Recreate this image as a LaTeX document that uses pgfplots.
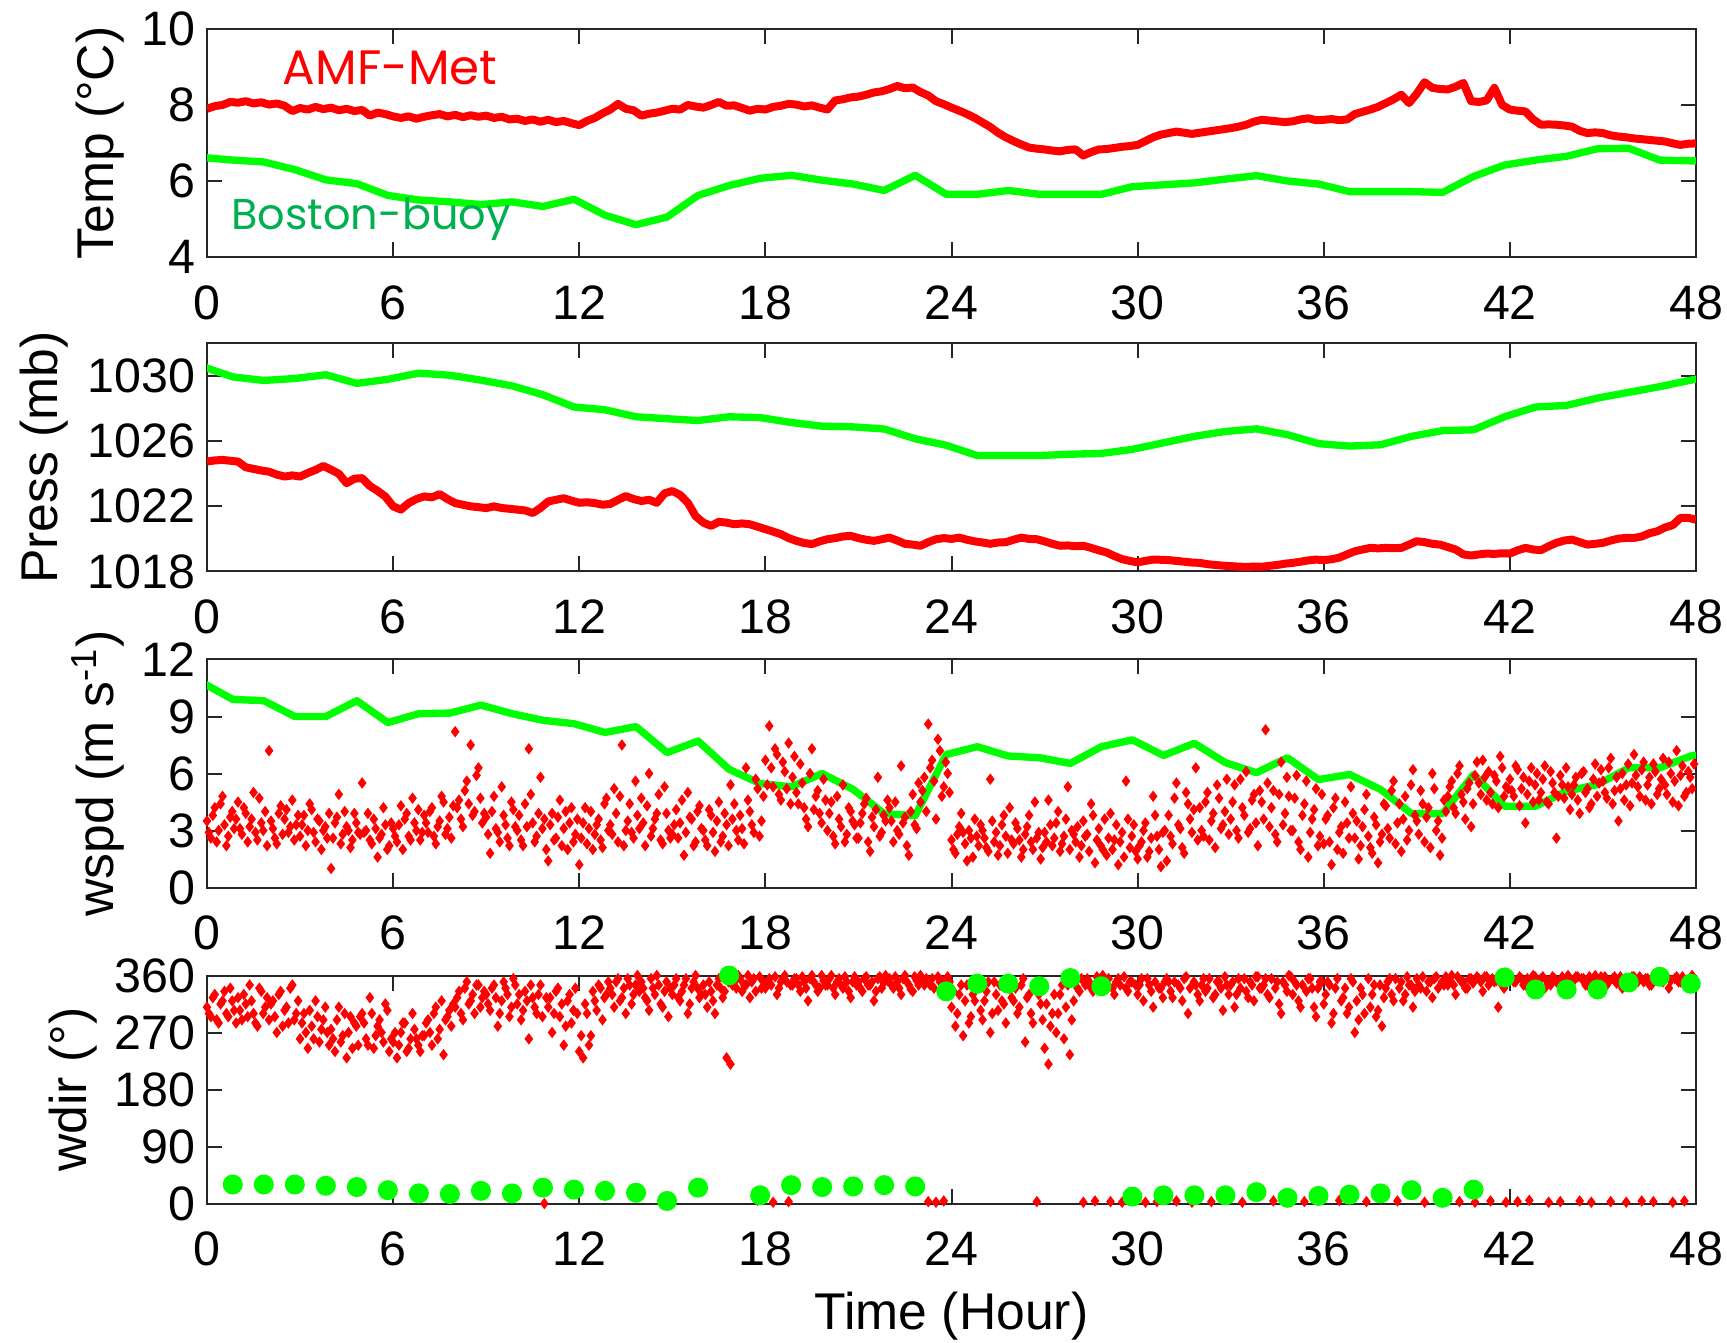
\documentclass[border=0pt]{standalone}
\usepackage{fontspec}
\setmainfont{Liberation Sans}
\newfontfamily\comic{Poppins}
\usepackage{pgfplots}
\pgfplotsset{compat=1.18}
\definecolor{mred}{RGB}{255,0,0}
\definecolor{mgreen}{RGB}{0,255,0}
\definecolor{lblgreen}{RGB}{0,176,80}
\begin{document}
\begin{tikzpicture}
\pgfplotsset{
 panel/.style={scale only axis, width=446.7pt, height=68.4pt, xmin=0, xmax=48, xtick={0,6,...,48},
  tick align=inside, tick pos=both, xticklabel pos=lower, yticklabel pos=left,
  major tick length=4.5pt,
  axis line style={black!85, line width=0.6pt}, every tick/.style={black!85, line width=0.6pt},
  tick label style={font=\fontsize{14.5}{15}\selectfont},
  /pgf/number format/assume math mode=true, /pgf/number format/set thousands separator={},
  scaled ticks=false, xticklabel style={yshift=-5pt},
  label style={font=\fontsize{15.5}{16}\selectfont}, anchor=north west},
 rline/.style={mred, line width=2.4pt, line join=round},
 gline/.style={mgreen, line width=2.2pt, line join=round},
 rdots/.style={only marks, mark=diamond*, mark size=1.4pt, color=mred},
}
% ---------------- Temperature
\begin{axis}[panel, at={(62.1pt,-8.7pt)}, ymin=4, ymax=10, ytick={4,6,8,10},
  ylabel={Temp (°C)}, ylabel style={at={(axis description cs:-0.0631,0.5)}, anchor=base}]
\addplot[rline] coordinates {(0,7.90)(0.25,7.97)(0.5,8.00)(0.75,8.08)(1,8.06)(1.25,8.10)(1.5,8.04)(1.75,8.07)(2,8.01)(2.25,8.04)(2.5,7.98)(2.75,7.84)(3,7.92)(3.25,7.88)(3.5,7.95)(3.75,7.89)(4,7.93)(4.25,7.86)(4.5,7.90)(4.75,7.84)(5,7.87)(5.25,7.72)(5.5,7.80)(5.75,7.76)(6,7.70)(6.25,7.66)(6.5,7.70)(6.75,7.64)(7,7.69)(7.25,7.73)(7.5,7.76)(7.75,7.70)(8,7.74)(8.25,7.68)(8.5,7.73)(8.75,7.69)(9,7.72)(9.25,7.66)(9.5,7.69)(9.75,7.62)(10,7.64)(10.25,7.58)(10.5,7.62)(10.75,7.56)(11,7.61)(11.25,7.55)(11.5,7.58)(11.75,7.52)(12,7.47)(12.25,7.58)(12.5,7.66)(12.75,7.78)(13,7.88)(13.25,8.03)(13.5,7.90)(13.75,7.86)(14,7.72)(14.25,7.77)(14.5,7.80)(14.75,7.85)(15,7.90)(15.25,7.88)(15.5,8.00)(15.75,7.96)(16,7.93)(16.25,8.00)(16.5,8.08)(16.75,7.98)(17,7.99)(17.25,7.92)(17.5,7.85)(17.75,7.90)(18,7.88)(18.25,7.95)(18.5,7.98)(18.75,8.03)(19,8.01)(19.25,7.96)(19.5,7.99)(19.75,7.93)(20,7.88)(20.25,8.12)(20.5,8.15)(20.75,8.20)(21,8.22)(21.25,8.27)(21.5,8.33)(21.75,8.36)(22,8.42)(22.25,8.50)(22.5,8.44)(22.75,8.46)(23,8.34)(23.25,8.25)(23.5,8.10)(23.75,8.02)(24,7.93)(24.25,7.85)(24.5,7.76)(24.75,7.66)(25,7.54)(25.25,7.42)(25.5,7.27)(25.75,7.15)(26,7.05)(26.25,6.96)(26.5,6.88)(26.75,6.85)(27,6.83)(27.25,6.80)(27.5,6.78)(27.75,6.82)(28,6.83)(28.25,6.67)(28.5,6.76)(28.75,6.83)(29,6.84)(29.25,6.87)(29.5,6.90)(29.75,6.92)(30,6.95)(30.25,7.05)(30.5,7.15)(30.75,7.22)(31,7.26)(31.25,7.30)(31.5,7.27)(31.75,7.24)(32,7.27)(32.25,7.30)(32.5,7.33)(32.75,7.36)(33,7.39)(33.25,7.43)(33.5,7.48)(33.75,7.56)(34,7.61)(34.25,7.59)(34.5,7.57)(34.75,7.55)(35,7.57)(35.25,7.62)(35.5,7.65)(35.75,7.60)(36,7.61)(36.25,7.63)(36.5,7.60)(36.75,7.62)(37,7.76)(37.25,7.82)(37.5,7.88)(37.75,7.95)(38,8.05)(38.25,8.15)(38.5,8.27)(38.75,8.05)(39,8.30)(39.25,8.60)(39.5,8.45)(39.75,8.42)(40,8.41)(40.25,8.48)(40.5,8.58)(40.75,8.10)(41,8.08)(41.25,8.12)(41.5,8.45)(41.75,8.00)(42,7.88)(42.25,7.85)(42.5,7.83)(42.75,7.62)(43,7.48)(43.25,7.49)(43.5,7.48)(43.75,7.46)(44,7.43)(44.25,7.32)(44.5,7.26)(44.75,7.28)(45,7.26)(45.25,7.20)(45.5,7.17)(45.75,7.15)(46,7.12)(46.25,7.10)(46.5,7.08)(46.75,7.06)(47,7.04)(47.25,6.99)(47.5,6.95)(47.75,6.98)(48,6.99)};
\addplot[gline] coordinates {(-0.17,6.62)(0.83,6.55)(1.83,6.5)(2.83,6.3)(3.83,6.03)(4.83,5.93)(5.83,5.62)(6.83,5.5)(7.83,5.45)(8.83,5.38)(9.83,5.45)(10.83,5.33)(11.83,5.52)(12.83,5.1)(13.83,4.85)(14.83,5.05)(15.83,5.62)(16.83,5.88)(17.83,6.07)(18.83,6.15)(19.83,6.02)(20.83,5.92)(21.83,5.75)(22.83,6.15)(23.83,5.65)(24.83,5.65)(25.83,5.75)(26.83,5.65)(27.83,5.65)(28.83,5.65)(29.83,5.85)(30.83,5.9)(31.83,5.95)(32.83,6.05)(33.83,6.14)(34.83,6.0)(35.83,5.92)(36.83,5.72)(37.83,5.72)(38.83,5.72)(39.83,5.7)(40.83,6.12)(41.83,6.42)(42.83,6.55)(43.83,6.65)(44.83,6.85)(45.83,6.86)(46.83,6.55)(47.83,6.53)(48.83,6.53)};
\end{axis}
\node[text=mred, font=\comic\fontsize{14.5}{14.5}\selectfont, anchor=base] at (117pt,-25.5pt) {AMF-Met};
\node[text=lblgreen, font=\comic\fontsize{12.9}{12.9}\selectfont, anchor=base] at (111.3pt,-69pt) {Boston-buoy};
% ---------------- Pressure
\begin{axis}[panel, at={(62.1pt,-103.05pt)}, ymin=1018, ymax=1032, ytick={1018,1022,1026,1030},
  ylabel={Press (mb)}, ylabel style={at={(axis description cs:-0.1007,0.5)}, anchor=base}]
\addplot[rline] coordinates {(0,1024.75)(0.25,1024.82)(0.5,1024.85)(0.75,1024.80)(1,1024.75)(1.25,1024.40)(1.5,1024.30)(1.75,1024.20)(2,1024.13)(2.25,1023.95)(2.5,1023.83)(2.75,1023.90)(3,1023.83)(3.25,1024.05)(3.5,1024.24)(3.75,1024.48)(4,1024.25)(4.25,1024.00)(4.5,1023.42)(4.75,1023.70)(5,1023.73)(5.25,1023.25)(5.5,1022.95)(5.75,1022.60)(6,1022.00)(6.25,1021.80)(6.5,1022.20)(6.75,1022.45)(7,1022.61)(7.25,1022.55)(7.5,1022.75)(7.75,1022.45)(8,1022.20)(8.25,1022.10)(8.5,1022.00)(8.75,1021.95)(9,1021.89)(9.25,1022.00)(9.5,1021.90)(9.75,1021.85)(10,1021.80)(10.25,1021.75)(10.5,1021.59)(10.75,1021.90)(11,1022.30)(11.25,1022.40)(11.5,1022.50)(11.75,1022.35)(12,1022.22)(12.25,1022.25)(12.5,1022.20)(12.75,1022.10)(13,1022.15)(13.25,1022.40)(13.5,1022.63)(13.75,1022.45)(14,1022.33)(14.25,1022.40)(14.5,1022.22)(14.75,1022.80)(15,1022.94)(15.25,1022.70)(15.5,1022.22)(15.75,1021.40)(16,1021.00)(16.25,1020.80)(16.5,1021.05)(16.75,1021.00)(17,1020.90)(17.25,1020.95)(17.5,1020.90)(17.75,1020.75)(18,1020.60)(18.25,1020.45)(18.5,1020.29)(18.75,1020.05)(19,1019.88)(19.25,1019.75)(19.5,1019.68)(19.75,1019.85)(20,1019.98)(20.25,1020.05)(20.5,1020.15)(20.75,1020.19)(21,1020.05)(21.25,1019.95)(21.5,1019.88)(21.75,1019.98)(22,1020.08)(22.25,1019.90)(22.5,1019.70)(22.75,1019.65)(23,1019.58)(23.25,1019.80)(23.5,1019.98)(23.75,1020.05)(24,1020.00)(24.25,1020.08)(24.5,1019.95)(24.75,1019.85)(25,1019.78)(25.25,1019.70)(25.5,1019.78)(25.75,1019.80)(26,1019.95)(26.25,1020.08)(26.5,1020.00)(26.75,1019.98)(27,1019.85)(27.25,1019.70)(27.5,1019.58)(27.75,1019.60)(28,1019.55)(28.25,1019.58)(28.5,1019.45)(28.75,1019.30)(29,1019.17)(29.25,1018.95)(29.5,1018.76)(29.75,1018.65)(30,1018.56)(30.25,1018.65)(30.5,1018.73)(30.75,1018.72)(31,1018.70)(31.25,1018.65)(31.5,1018.60)(31.75,1018.55)(32,1018.53)(32.25,1018.45)(32.5,1018.40)(32.75,1018.36)(33,1018.33)(33.25,1018.30)(33.5,1018.28)(33.75,1018.30)(34,1018.29)(34.25,1018.35)(34.5,1018.40)(34.75,1018.48)(35,1018.53)(35.25,1018.60)(35.5,1018.68)(35.75,1018.73)(36,1018.70)(36.25,1018.75)(36.5,1018.85)(36.75,1019.05)(37,1019.24)(37.25,1019.35)(37.5,1019.45)(37.75,1019.42)(38,1019.45)(38.25,1019.43)(38.5,1019.45)(38.75,1019.65)(39,1019.86)(39.25,1019.80)(39.5,1019.70)(39.75,1019.65)(40,1019.50)(40.25,1019.35)(40.5,1019.05)(40.75,1018.98)(41,1019.05)(41.25,1019.10)(41.5,1019.08)(41.75,1019.12)(42,1019.10)(42.25,1019.30)(42.5,1019.45)(42.75,1019.35)(43,1019.31)(43.25,1019.55)(43.5,1019.76)(43.75,1019.90)(44,1019.96)(44.25,1019.80)(44.5,1019.65)(44.75,1019.70)(45,1019.76)(45.25,1019.90)(45.5,1020.02)(45.75,1020.06)(46,1020.06)(46.25,1020.15)(46.5,1020.35)(46.75,1020.47)(47,1020.70)(47.25,1020.85)(47.5,1021.29)(47.75,1021.30)(48,1021.18)};
\addplot[gline] coordinates {(-0.17,1030.6)(0.83,1029.95)(1.83,1029.73)(2.83,1029.85)(3.83,1030.08)(4.83,1029.55)(5.83,1029.8)(6.83,1030.18)(7.83,1030.05)(8.83,1029.75)(9.83,1029.4)(10.83,1028.85)(11.83,1028.1)(12.83,1027.93)(13.83,1027.5)(14.83,1027.38)(15.83,1027.27)(16.83,1027.5)(17.83,1027.45)(18.83,1027.15)(19.83,1026.92)(20.83,1026.88)(21.83,1026.75)(22.83,1026.15)(23.83,1025.75)(24.83,1025.12)(25.83,1025.12)(26.83,1025.12)(27.83,1025.2)(28.83,1025.25)(29.83,1025.5)(30.83,1025.9)(31.83,1026.3)(32.83,1026.6)(33.83,1026.76)(34.83,1026.4)(35.83,1025.85)(36.83,1025.7)(37.83,1025.78)(38.83,1026.3)(39.83,1026.65)(40.83,1026.7)(41.83,1027.5)(42.83,1028.1)(43.83,1028.2)(44.83,1028.65)(45.83,1029.0)(46.83,1029.35)(47.83,1029.75)(48.83,1030.1)};
\end{axis}
% ---------------- Wind speed
\begin{axis}[panel, at={(62.1pt,-197.85pt)}, ymin=0, ymax=12, ytick={0,3,6,9,12},
  ylabel={wspd (m s\textsuperscript{-1})}, ylabel style={at={(axis description cs:-0.0625,0.5)}, anchor=base}]
\addplot[rdots] coordinates {
(0,3.5)(0.125,2.6)(0.25,4.2)(0.375,3.0)(0.5,4.8)(0.625,2.2)(0.75,3.7)(0.875,3.1)
(1,4.5)(1.125,2.8)(1.25,3.9)(1.375,3.2)(1.5,5.0)(1.625,2.5)(1.75,3.4)(1.875,4.0)
(2,7.2)(2.125,3.1)(2.25,2.3)(2.375,4.3)(2.5,3.6)(2.625,2.9)(2.75,4.6)(2.875,3.3)
(3,2.7)(3.125,3.8)(3.25,3.0)(3.375,4.1)(3.5,2.4)(3.625,3.5)(3.75,3.0)(3.875,2.6)
(4,1.0)(4.125,3.4)(4.25,4.9)(4.375,2.8)(4.5,3.2)(4.625,2.1)(4.75,3.9)(4.875,2.9)
(5,5.5)(5.125,3.0)(5.25,2.5)(5.375,3.6)(5.5,1.6)(5.625,2.8)(5.75,3.3)(5.875,2.2)
(6,3.1)(6.125,2.4)(6.25,4.3)(6.375,3.6)(6.5,2.7)(6.625,4.7)(6.75,3.0)(6.875,2.5)
(7,3.8)(7.125,2.9)(7.25,4.2)(7.375,2.3)(7.5,3.5)(7.625,4.5)(7.75,3.1)(7.875,2.6)
(8,8.2)(8.125,4.6)(8.25,3.2)(8.375,5.6)(8.5,7.5)(8.625,4.0)(8.75,6.3)(8.875,3.4)
(9,3.7)(9.125,1.8)(9.25,4.8)(9.375,2.9)(9.5,5.3)(9.625,3.3)(9.75,2.2)(9.875,4.1)
(10,3.0)(10.125,2.5)(10.25,4.4)(10.375,7.3)(10.5,3.4)(10.625,2.7)(10.75,5.8)(10.875,3.6)
(11,1.4)(11.125,3.9)(11.25,2.6)(11.375,4.6)(11.5,3.1)(11.625,2.0)(11.75,4.2)(11.875,2.8)
(12,1.2)(12.125,3.4)(12.25,2.3)(12.375,4.0)(12.5,2.8)(12.625,3.6)(12.75,2.1)(12.875,4.7)
(13,3.3)(13.125,5.2)(13.25,2.4)(13.375,7.5)(13.5,3.0)(13.625,4.4)(13.75,2.6)(13.875,3.8)
(14,4.7)(14.125,2.2)(14.25,6.0)(14.375,3.1)(14.5,3.9)(14.625,2.5)(14.75,5.3)(14.875,3.0)
(15,2.8)(15.125,4.1)(15.25,3.4)(15.375,1.7)(15.5,5.0)(15.625,3.6)(15.75,2.4)(15.875,4.3)
(16,3.0)(16.125,2.2)(16.25,3.8)(16.375,1.9)(16.5,4.5)(16.625,2.7)(16.75,3.3)(16.875,5.4)
(17,4.4)(17.125,2.5)(17.25,3.1)(17.375,6.3)(17.5,4.0)(17.625,2.9)(17.75,5.2)(17.875,3.5)
(18,6.7)(18.125,8.5)(18.25,5.3)(18.375,7.0)(18.5,4.6)(18.625,6.1)(18.75,7.6)(18.875,5.8)
(19,5.0)(19.125,6.5)(19.25,4.2)(19.375,3.2)(19.5,7.3)(19.625,4.8)(19.75,3.9)(19.875,5.7)
(20,3.0)(20.125,4.5)(20.25,2.3)(20.375,3.6)(20.5,5.4)(20.625,2.8)(20.75,4.0)(20.875,3.3)
(21,2.6)(21.125,3.9)(21.25,4.7)(21.375,1.9)(21.5,3.2)(21.625,5.8)(21.75,2.9)(21.875,3.5)
(22,4.2)(22.125,2.4)(22.25,3.0)(22.375,6.4)(22.5,3.7)(22.625,1.7)(22.75,4.9)(22.875,3.1)
(23,4.5)(23.125,5.8)(23.25,8.6)(23.375,6.7)(23.5,3.6)(23.625,7.2)(23.75,5.3)(23.875,6.0)
(24,2.5)(24.125,1.8)(24.25,3.2)(24.375,2.9)(24.5,1.4)(24.625,2.6)(24.75,3.6)(24.875,2.2)
(25,3.0)(25.125,2.1)(25.25,5.7)(25.375,2.4)(25.5,1.7)(25.625,3.3)(25.75,2.7)(25.875,4.2)
(26,2.3)(26.125,3.1)(26.25,1.6)(26.375,2.8)(26.5,3.8)(26.625,2.0)(26.75,2.6)(26.875,1.5)
(27,2.9)(27.125,4.6)(27.25,2.2)(27.375,3.4)(27.5,1.9)(27.625,2.7)(27.75,5.3)(27.875,3.0)
(28,2.4)(28.125,1.6)(28.25,3.5)(28.375,2.8)(28.5,4.4)(28.625,1.3)(28.75,3.1)(28.875,2.0)
(29,1.7)(29.125,3.9)(29.25,2.5)(29.375,1.2)(29.5,2.9)(29.625,5.6)(29.75,2.1)(29.875,3.3)
(30,1.5)(30.125,2.4)(30.25,3.4)(30.375,1.9)(30.5,4.8)(30.625,2.7)(30.75,1.1)(30.875,3.0)
(31,3.8)(31.125,2.3)(31.25,5.5)(31.375,3.1)(31.5,1.8)(31.625,4.4)(31.75,2.9)(31.875,6.3)
(32,4.2)(32.125,2.7)(32.25,5.0)(32.375,3.5)(32.5,2.1)(32.625,4.7)(32.75,3.3)(32.875,5.7)
(33,3.6)(33.125,5.4)(33.25,2.6)(33.375,4.2)(33.5,6.1)(33.625,3.1)(33.75,4.9)(33.875,2.2)
(34,4.5)(34.125,8.3)(34.25,3.2)(34.375,5.1)(34.5,2.4)(34.625,6.6)(34.75,3.9)(34.875,4.8)
(35,3.0)(35.125,5.9)(35.25,2.0)(35.375,4.4)(35.5,1.6)(35.625,3.6)(35.75,5.2)(35.875,2.7)
(36,2.3)(36.125,3.8)(36.25,1.2)(36.375,4.7)(36.5,2.9)(36.625,1.8)(36.75,3.4)(36.875,5.3)
(37,2.6)(37.125,1.5)(37.25,3.2)(37.375,4.9)(37.5,2.1)(37.625,3.7)(37.75,1.3)(37.875,2.8)
(38,4.3)(38.125,2.6)(38.25,5.6)(38.375,3.4)(38.5,1.9)(38.625,4.8)(38.75,3.0)(38.875,6.2)
(39,3.5)(39.125,5.1)(39.25,2.4)(39.375,4.2)(39.5,6.0)(39.625,3.0)(39.75,1.7)(39.875,4.6)
(40,4.8)(40.125,5.6)(40.25,3.9)(40.375,6.4)(40.5,4.5)(40.625,5.2)(40.75,3.2)(40.875,5.9)
(41,5.5)(41.125,6.7)(41.25,4.6)(41.375,5.0)(41.5,5.9)(41.625,4.2)(41.75,6.3)(41.875,5.3)
(42,5.7)(42.125,4.8)(42.25,6.2)(42.375,5.2)(42.5,3.4)(42.625,5.6)(42.75,4.5)(42.875,6.0)
(43,5.0)(43.125,6.4)(43.25,4.4)(43.375,5.5)(43.5,2.6)(43.625,5.9)(43.75,4.7)(43.875,5.3)
(44,4.9)(44.125,5.8)(44.25,3.9)(44.375,6.1)(44.5,5.2)(44.625,4.4)(44.75,6.5)(44.875,5.5)
(45,5.6)(45.125,4.7)(45.25,6.8)(45.375,5.1)(45.5,3.5)(45.625,6.0)(45.75,5.4)(45.875,4.3)
(46,7.0)(46.125,5.3)(46.25,6.2)(46.375,4.6)(46.5,5.8)(46.625,6.5)(46.75,4.9)(46.875,5.7)
(47,5.4)(47.125,6.6)(47.25,4.5)(47.375,7.2)(47.5,5.9)(47.625,4.8)(47.75,6.1)(47.875,5.2)};
\addplot[rdots] coordinates {
(0.0625,2.9)(0.1875,3.8)(0.3125,2.4)(0.4375,4.4)(0.5625,3.3)(0.6875,2.7)(0.8125,4.0)(0.9375,3.6)
(1.0625,3.1)(1.1875,4.2)(1.3125,2.4)(1.4375,3.6)(1.5625,2.9)(1.6875,4.7)(1.8125,3.0)(1.9375,2.2)
(2.0625,3.5)(2.1875,2.6)(2.3125,3.9)(2.4375,2.8)(2.5625,4.1)(2.6875,3.2)(2.8125,2.5)(2.9375,3.8)
(3.0625,3.3)(3.1875,2.2)(3.3125,4.4)(3.4375,2.9)(3.5625,3.6)(3.6875,2.0)(3.8125,3.2)(3.9375,3.9)
(4.0625,2.6)(4.1875,3.7)(4.3125,2.3)(4.4375,4.0)(4.5625,3.0)(4.6875,2.5)(4.8125,3.4)(4.9375,2.8)
(5.0625,2.9)(5.1875,3.9)(5.3125,2.3)(5.4375,3.1)(5.5625,2.6)(5.6875,4.2)(5.8125,2.0)(5.9375,3.4)
(6.0625,2.7)(6.1875,3.3)(6.3125,2.0)(6.4375,3.9)(6.5625,2.5)(6.6875,3.4)(6.8125,4.1)(6.9375,2.9)
(7.0625,3.4)(7.1875,4.0)(7.3125,2.7)(7.4375,3.2)(7.5625,4.8)(7.6875,2.8)(7.8125,3.7)(7.9375,4.3)
(8.0625,4.2)(8.1875,3.6)(8.3125,5.1)(8.4375,4.4)(8.5625,3.8)(8.6875,5.9)(8.8125,4.7)(8.9375,3.9)
(9.0625,2.8)(9.1875,4.0)(9.3125,3.1)(9.4375,2.4)(9.5625,3.8)(9.6875,2.6)(9.8125,4.5)(9.9375,3.2)
(10.0625,3.8)(10.1875,2.2)(10.3125,3.2)(10.4375,4.9)(10.5625,2.4)(10.6875,3.9)(10.8125,3.1)(10.9375,2.0)
(11.0625,3.3)(11.1875,2.5)(11.3125,3.7)(11.4375,2.2)(11.5625,4.0)(11.6875,3.4)(11.8125,2.4)(11.9375,3.6)
(12.0625,2.6)(12.1875,4.2)(12.3125,3.1)(12.4375,2.0)(12.5625,3.3)(12.6875,2.5)(12.8125,4.4)(12.9375,3.0)
(13.0625,2.8)(13.1875,3.9)(13.3125,4.8)(13.4375,2.2)(13.5625,3.5)(13.6875,2.9)(13.8125,5.6)(13.9375,3.1)
(14.0625,3.4)(14.1875,4.3)(14.3125,2.7)(14.4375,3.6)(14.5625,4.9)(14.6875,2.3)(14.8125,3.9)(14.9375,2.6)
(15.0625,3.3)(15.1875,2.6)(15.3125,4.6)(15.4375,2.9)(15.5625,3.7)(15.6875,2.2)(15.8125,4.0)(15.9375,3.1)
(16.0625,2.5)(16.1875,4.1)(16.3125,2.9)(16.4375,3.5)(16.5625,2.4)(16.6875,3.9)(16.8125,2.2)(16.9375,3.6)
(17.0625,3.0)(17.1875,3.8)(17.3125,2.3)(17.4375,4.6)(17.5625,3.3)(17.6875,5.7)(17.8125,2.7)(17.9375,4.8)
(18.0625,5.4)(18.1875,6.3)(18.3125,7.3)(18.4375,4.9)(18.5625,6.6)(18.6875,5.2)(18.8125,4.4)(18.9375,6.9)
(19.0625,4.4)(19.1875,5.5)(19.3125,3.6)(19.4375,6.0)(19.5625,4.1)(19.6875,5.1)(19.8125,3.4)(19.9375,4.6)
(20.0625,3.9)(20.1875,2.7)(20.3125,4.8)(20.4375,3.2)(20.5625,2.4)(20.6875,4.2)(20.8125,3.5)(20.9375,2.6)
(21.0625,3.4)(21.1875,4.4)(21.3125,2.4)(21.4375,3.7)(21.5625,4.1)(21.6875,2.7)(21.8125,3.8)(21.9375,4.6)
(22.0625,3.5)(22.1875,4.5)(22.3125,2.8)(22.4375,3.4)(22.5625,2.2)(22.6875,4.0)(22.8125,3.3)(22.9375,5.5)
(23.0625,5.1)(23.1875,4.0)(23.3125,6.3)(23.4375,5.6)(23.5625,7.8)(23.6875,4.8)(23.8125,6.6)(23.9375,5.0)
(24.0625,2.0)(24.1875,2.8)(24.3125,3.9)(24.4375,2.3)(24.5625,3.0)(24.6875,1.6)(24.8125,2.7)(24.9375,3.3)
(25.0625,2.6)(25.1875,1.9)(25.3125,3.5)(25.4375,2.9)(25.5625,2.2)(25.6875,3.8)(25.8125,1.8)(25.9375,2.5)
(26.0625,3.4)(26.1875,2.5)(26.3125,2.0)(26.4375,3.2)(26.5625,2.4)(26.6875,4.5)(26.8125,2.9)(26.9375,2.1)
(27.0625,2.4)(27.1875,3.3)(27.3125,2.6)(27.4375,4.0)(27.5625,2.3)(27.6875,3.6)(27.8125,2.0)(27.9375,2.8)
(28.0625,3.2)(28.1875,2.2)(28.3125,2.7)(28.4375,1.9)(28.5625,3.8)(28.6875,2.5)(28.8125,2.2)(28.9375,3.6)
(29.0625,2.6)(29.1875,2.0)(29.3125,3.3)(29.4375,2.4)(29.5625,1.6)(29.6875,3.6)(29.8125,2.7)(29.9375,1.9)
(30.0625,2.2)(30.1875,3.0)(30.3125,1.6)(30.4375,2.6)(30.5625,3.8)(30.6875,2.0)(30.8125,2.9)(30.9375,1.4)
(31.0625,2.7)(31.1875,4.7)(31.3125,3.3)(31.4375,2.1)(31.5625,5.0)(31.6875,3.6)(31.8125,4.1)(31.9375,2.5)
(32.0625,3.0)(32.1875,4.5)(32.3125,2.5)(32.4375,3.9)(32.5625,5.4)(32.6875,3.1)(32.8125,4.0)(32.9375,2.8)
(33.0625,4.5)(33.1875,3.0)(33.3125,5.7)(33.4375,3.8)(33.5625,2.9)(33.6875,4.6)(33.8125,3.4)(33.9375,5.1)
(34.0625,3.6)(34.1875,5.5)(34.3125,4.2)(34.4375,2.8)(34.5625,4.9)(34.6875,3.3)(34.8125,5.8)(34.9375,3.0)
(35.0625,4.7)(35.1875,2.4)(35.3125,3.8)(35.4375,5.6)(35.5625,2.9)(35.6875,4.1)(35.8125,2.2)(35.9375,4.9)
(36.0625,3.6)(36.1875,2.4)(36.3125,4.2)(36.4375,2.0)(36.5625,3.2)(36.6875,4.5)(36.8125,2.6)(36.9375,3.9)
(37.0625,3.5)(37.1875,2.2)(37.3125,4.1)(37.4375,2.7)(37.5625,1.8)(37.6875,3.3)(37.8125,2.4)(37.9375,4.4)
(38.0625,3.1)(38.1875,5.1)(38.3125,2.3)(38.4375,4.4)(38.5625,3.6)(38.6875,2.5)(38.8125,5.4)(38.9375,3.8)
(39.0625,2.8)(39.1875,4.4)(39.3125,3.7)(39.4375,2.1)(39.5625,5.2)(39.6875,3.5)(39.8125,2.6)(39.9375,4.0)
(40.0625,5.3)(40.1875,4.2)(40.3125,6.0)(40.4375,4.9)(40.5625,3.6)(40.6875,5.5)(40.8125,4.4)(40.9375,6.6)
(41.0625,4.9)(41.1875,5.8)(41.3125,6.1)(41.4375,4.4)(41.5625,5.6)(41.6875,6.9)(41.8125,4.8)(41.9375,5.2)
(42.0625,5.1)(42.1875,6.4)(42.3125,4.3)(42.4375,5.8)(42.5625,4.9)(42.6875,6.3)(42.8125,5.4)(42.9375,4.6)
(43.0625,5.7)(43.1875,4.5)(43.3125,6.1)(43.4375,5.0)(43.5625,4.8)(43.6875,5.4)(43.8125,6.3)(43.9375,4.1)
(44.0625,5.4)(44.1875,4.6)(44.3125,6.0)(44.4375,5.0)(44.5625,4.2)(44.6875,5.7)(44.8125,4.8)(44.9375,6.2)
(45.0625,5.0)(45.1875,6.3)(45.3125,4.4)(45.4375,5.8)(45.5625,5.2)(45.6875,4.6)(45.8125,6.5)(45.9375,5.5)
(46.0625,5.9)(46.1875,4.8)(46.3125,6.6)(46.4375,5.4)(46.5625,4.4)(46.6875,6.1)(46.8125,5.2)(46.9375,6.8)
(47.0625,4.9)(47.1875,6.0)(47.3125,5.6)(47.4375,4.3)(47.5625,6.4)(47.6875,5.0)(47.8125,5.8)(47.9375,6.5)};
\addplot[gline] coordinates {(-0.17,10.8)(0.83,9.9)(1.83,9.83)(2.83,9.0)(3.83,9.0)(4.83,9.83)(5.83,8.68)(6.83,9.15)(7.83,9.18)(8.83,9.6)(9.83,9.15)(10.83,8.8)(11.83,8.62)(12.83,8.16)(13.83,8.47)(14.83,7.1)(15.83,7.71)(16.83,6.22)(17.83,5.47)(18.83,5.3)(19.83,6.0)(20.83,5.16)(21.83,3.89)(22.83,3.78)(23.83,7.0)(24.83,7.41)(25.83,6.92)(26.83,6.83)(27.83,6.53)(28.83,7.41)(29.83,7.77)(30.83,6.95)(31.83,7.59)(32.83,6.57)(33.83,6.04)(34.83,6.83)(35.83,5.68)(36.83,5.95)(37.83,5.16)(38.83,3.89)(39.83,3.89)(40.83,5.95)(41.83,4.28)(42.83,4.28)(43.83,5.07)(44.83,5.42)(45.83,6.3)(46.83,6.3)(47.83,6.92)(48.83,7.2)};
\end{axis}
% ---------------- Wind direction
\begin{axis}[panel, at={(62.1pt,-292.65pt)}, ymin=0, ymax=360, ytick={0,90,180,270,360}, clip=false,
  ylabel={wdir (°)}, ylabel style={at={(axis description cs:-0.0812,0.5)}, anchor=base},
  xlabel={Time (Hour)}, xlabel style={at={(axis description cs:0.5,-0.553)}, anchor=base}]
\addplot[rdots] coordinates {
(0,310)(0.125,295)(0.25,330)(0.375,285)(0.5,320)(0.625,300)(0.75,340)(0.875,305)
(1,325)(1.125,290)(1.25,315)(1.375,345)(1.5,300)(1.625,280)(1.75,335)(1.875,310)
(2,290)(2.125,320)(2.25,270)(2.375,335)(2.5,305)(2.625,285)(2.75,345)(2.875,300)
(3,260)(3.125,300)(3.25,245)(3.375,280)(3.5,320)(3.625,255)(3.75,290)(3.875,270)
(4,275)(4.125,240)(4.25,310)(4.375,265)(4.5,230)(4.625,295)(4.75,285)(4.875,250)
(5,300)(5.125,260)(5.25,325)(5.375,245)(5.5,280)(5.625,270)(5.75,315)(5.875,240)
(6,255)(6.125,230)(6.25,270)(6.375,285)(6.5,245)(6.625,300)(6.75,260)(6.875,240)
(7,265)(7.125,290)(7.25,250)(7.375,310)(7.5,275)(7.625,235)(7.75,295)(7.875,280)
(8,310)(8.125,335)(8.25,290)(8.375,350)(8.5,320)(8.625,300)(8.75,345)(8.875,325)
(9,330)(9.125,305)(9.25,345)(9.375,280)(9.5,320)(9.625,340)(9.75,295)(9.875,355)
(10,315)(10.125,290)(10.25,335)(10.375,260)(10.5,325)(10.625,300)(10.75,345)(10.875,0)
(11,310)(11.125,270)(11.25,335)(11.375,295)(11.5,250)(11.625,320)(11.75,285)(11.875,340)
(12,240)(12.125,230)(12.25,300)(12.375,265)(12.5,320)(12.625,345)(12.75,290)(12.875,330)
(13,340)(13.125,310)(13.25,355)(13.375,325)(13.5,300)(13.625,345)(13.75,330)(13.875,360)
(14,350)(14.125,325)(14.25,305)(14.375,340)(14.5,360)(14.625,315)(14.75,335)(14.875,295)
(15,330)(15.125,355)(15.25,320)(15.375,345)(15.5,300)(15.625,340)(15.75,360)(15.875,325)
(16,345)(16.125,310)(16.25,335)(16.375,300)(16.5,355)(16.625,325)(16.75,230)(16.875,220)
(17,350)(17.125,360)(17.25,335)(17.375,345)(17.5,325)(17.625,355)(17.75,5)(17.875,340)
(18,340)(18.125,355)(18.25,2)(18.375,330)(18.5,350)(18.625,360)(18.75,3)(18.875,345)
(19,355)(19.125,335)(19.25,350)(19.375,320)(19.5,360)(19.625,345)(19.75,340)(19.875,352)
(20,345)(20.125,360)(20.25,330)(20.375,355)(20.5,340)(20.625,350)(20.75,325)(20.875,358)
(21,350)(21.125,335)(21.25,358)(21.375,345)(21.5,320)(21.625,355)(21.75,340)(21.875,360)
(22,355)(22.125,340)(22.25,350)(22.375,330)(22.5,360)(22.625,345)(22.75,335)(22.875,352)
(23,360)(23.125,345)(23.25,3)(23.375,355)(23.5,2)(23.625,350)(23.75,4)(23.875,358)
(24,310)(24.125,280)(24.25,330)(24.375,265)(24.5,345)(24.625,295)(24.75,320)(24.875,350)
(25,290)(25.125,335)(25.25,270)(25.375,350)(25.5,305)(25.625,320)(25.75,285)(25.875,340)
(26,320)(26.125,300)(26.25,345)(26.375,255)(26.5,330)(26.625,285)(26.75,3)(26.875,315)
(27,245)(27.125,220)(27.25,300)(27.375,270)(27.5,330)(27.625,260)(27.75,345)(27.875,290)
(28,350)(28.125,335)(28.25,2)(28.375,355)(28.5,340)(28.625,4)(28.75,345)(28.875,360)
(29,345)(29.125,3)(29.25,330)(29.375,355)(29.5,2)(29.625,340)(29.75,350)(29.875,5)
(30,330)(30.125,355)(30.25,2)(30.375,345)(30.5,310)(30.625,3)(30.75,340)(30.875,350)
(31,350)(31.125,325)(31.25,4)(31.375,340)(31.5,355)(31.625,300)(31.75,2)(31.875,345)
(32,320)(32.125,355)(32.25,340)(32.375,3)(32.5,330)(32.625,350)(32.75,305)(32.875,345)
(33,345)(33.125,310)(33.25,355)(33.375,2)(33.5,335)(33.625,350)(33.75,320)(33.875,358)
(34,340)(34.125,355)(34.25,325)(34.375,4)(34.5,350)(34.625,300)(34.75,345)(34.875,360)
(35,330)(35.125,345)(35.25,310)(35.375,3)(35.5,355)(35.625,340)(35.75,295)(35.875,350)
(36,315)(36.125,350)(36.25,285)(36.375,340)(36.5,5)(36.625,325)(36.75,300)(36.875,355)
(37,270)(37.125,290)(37.25,330)(37.375,3)(37.5,310)(37.625,345)(37.75,305)(37.875,280)
(38,340)(38.125,355)(38.25,320)(38.375,4)(38.5,350)(38.625,330)(38.75,345)(38.875,310)
(39,355)(39.125,340)(39.25,2)(39.375,350)(39.5,325)(39.625,358)(39.75,3)(39.875,345)
(40,345)(40.125,360)(40.25,330)(40.375,3)(40.5,350)(40.625,340)(40.75,355)(40.875,2)
(41,355)(41.125,335)(41.25,358)(41.375,4)(41.5,350)(41.625,310)(41.75,345)(41.875,2)
(42,358)(42.125,350)(42.25,3)(42.375,355)(42.5,345)(42.625,5)(42.75,360)(42.875,352)
(43,355)(43.125,340)(43.25,2)(43.375,358)(43.5,350)(43.625,3)(43.75,345)(43.875,360)
(44,350)(44.125,358)(44.25,4)(44.375,355)(44.5,345)(44.625,2)(44.75,360)(44.875,352)
(45,355)(45.125,345)(45.25,3)(45.375,358)(45.5,350)(45.625,340)(45.75,2)(45.875,355)
(46,358)(46.125,350)(46.25,4)(46.375,355)(46.5,345)(46.625,3)(46.75,360)(46.875,352)
(47,355)(47.125,340)(47.25,2)(47.375,358)(47.5,350)(47.625,4)(47.75,345)(47.875,360)};
\addplot[rdots] coordinates {
(0.0625,300)(0.1875,325)(0.3125,290)(0.4375,315)(0.5625,335)(0.6875,295)(0.8125,320)(0.9375,285)
(1.0625,305)(1.1875,330)(1.3125,295)(1.4375,320)(1.5625,285)(1.6875,340)(1.8125,300)(1.9375,325)
(2.0625,315)(2.1875,295)(2.3125,330)(2.4375,280)(2.5625,310)(2.6875,340)(2.8125,290)(2.9375,320)
(3.0625,285)(3.1875,270)(3.3125,305)(3.4375,260)(3.5625,295)(3.6875,275)(3.8125,310)(3.9375,250)
(4.0625,260)(4.1875,290)(4.3125,255)(4.4375,300)(4.5625,270)(4.6875,245)(4.8125,280)(4.9375,295)
(5.0625,285)(5.1875,250)(5.3125,300)(5.4375,265)(5.5625,290)(5.6875,255)(5.8125,305)(5.9375,260)
(6.0625,270)(6.1875,250)(6.3125,285)(6.4375,240)(6.5625,260)(6.6875,275)(6.8125,250)(6.9375,265)
(7.0625,285)(7.1875,270)(7.3125,300)(7.4375,260)(7.5625,320)(7.6875,290)(7.8125,305)(7.9375,315)
(8.0625,325)(8.1875,300)(8.3125,340)(8.4375,315)(8.5625,330)(8.6875,345)(8.8125,310)(8.9375,335)
(9.0625,315)(9.1875,340)(9.3125,325)(9.4375,300)(9.5625,350)(9.6875,330)(9.8125,310)(9.9375,345)
(10.0625,330)(10.1875,305)(10.3125,320)(10.4375,345)(10.5625,310)(10.6875,330)(10.8125,295)(10.9375,325)
(11.0625,325)(11.1875,300)(11.3125,340)(11.4375,315)(11.5625,280)(11.6875,330)(11.8125,305)(11.9375,300)
(12.0625,265)(12.1875,315)(12.3125,250)(12.4375,335)(12.5625,305)(12.6875,340)(12.8125,325)(12.9375,350)
(13.0625,330)(13.1875,350)(13.3125,320)(13.4375,340)(13.5625,355)(13.6875,315)(13.8125,345)(13.9375,335)
(14.0625,340)(14.1875,320)(14.3125,355)(14.4375,330)(14.5625,345)(14.6875,310)(14.8125,350)(14.9375,340)
(15.0625,345)(15.1875,325)(15.3125,335)(15.4375,355)(15.5625,315)(15.6875,350)(15.8125,340)(15.9375,330)
(16.0625,330)(16.1875,350)(16.3125,320)(16.4375,345)(16.5625,340)(16.6875,335)(16.8125,350)(16.9375,345)
(17.0625,340)(17.1875,355)(17.3125,345)(17.4375,360)(17.5625,350)(17.6875,335)(17.8125,358)(17.9375,350)
(18.0625,350)(18.1875,345)(18.3125,358)(18.4375,340)(18.5625,355)(18.6875,350)(18.8125,345)(18.9375,355)
(19.0625,345)(19.1875,358)(19.3125,340)(19.4375,355)(19.5625,350)(19.6875,335)(19.8125,360)(19.9375,345)
(20.0625,355)(20.1875,340)(20.3125,350)(20.4375,345)(20.5625,358)(20.6875,335)(20.8125,350)(20.9375,345)
(21.0625,340)(21.1875,355)(21.3125,345)(21.4375,350)(21.5625,335)(21.6875,358)(21.8125,348)(21.9375,352)
(22.0625,345)(22.1875,358)(22.3125,340)(22.4375,355)(22.5625,350)(22.6875,338)(22.8125,358)(22.9375,345)
(23.0625,350)(23.1875,355)(23.3125,345)(23.4375,340)(23.5625,358)(23.6875,352)(23.8125,345)(23.9375,350)
(24.0625,335)(24.1875,300)(24.3125,345)(24.4375,320)(24.5625,285)(24.6875,330)(24.8125,340)(24.9375,305)
(25.0625,320)(25.1875,350)(25.3125,300)(25.4375,330)(25.5625,345)(25.6875,315)(25.8125,350)(25.9375,325)
(26.0625,340)(26.1875,310)(26.3125,355)(26.4375,325)(26.5625,300)(26.6875,345)(26.8125,330)(26.9375,290)
(27.0625,315)(27.1875,280)(27.3125,330)(27.4375,300)(27.5625,345)(27.6875,310)(27.8125,235)(27.9375,320)
(28.0625,340)(28.1875,355)(28.3125,345)(28.4375,350)(28.5625,335)(28.6875,358)(28.8125,345)(28.9375,350)
(29.0625,355)(29.1875,340)(29.3125,350)(29.4375,345)(29.5625,358)(29.6875,335)(29.8125,350)(29.9375,345)
(30.0625,345)(30.1875,320)(30.3125,355)(30.4375,335)(30.5625,350)(30.6875,340)(30.8125,325)(30.9375,355)
(31.0625,335)(31.1875,350)(31.3125,345)(31.4375,320)(31.5625,358)(31.6875,340)(31.8125,350)(31.9375,330)
(32.0625,345)(32.1875,335)(32.3125,355)(32.4375,325)(32.5625,350)(32.6875,340)(32.8125,358)(32.9375,330)
(33.0625,350)(33.1875,330)(33.3125,340)(33.4375,355)(33.5625,325)(33.6875,345)(33.8125,358)(33.9375,340)
(34.0625,345)(34.1875,330)(34.3125,355)(34.4375,340)(34.5625,315)(34.6875,350)(34.8125,335)(34.9375,358)
(35.0625,350)(35.1875,320)(35.3125,345)(35.4375,335)(35.5625,355)(35.6875,310)(35.8125,340)(35.9375,350)
(36.0625,330)(36.1875,345)(36.3125,300)(36.4375,355)(36.5625,320)(36.6875,340)(36.8125,310)(36.9375,350)
(37.0625,320)(37.1875,340)(37.3125,300)(37.4375,355)(37.5625,330)(37.6875,295)(37.8125,345)(37.9375,325)
(38.0625,350)(38.1875,330)(38.3125,355)(38.4375,340)(38.5625,320)(38.6875,358)(38.8125,345)(38.9375,335)
(39.0625,345)(39.1875,358)(39.3125,335)(39.4375,350)(39.5625,355)(39.6875,340)(39.8125,350)(39.9375,358)
(40.0625,355)(40.1875,345)(40.3125,358)(40.4375,350)(40.5625,340)(40.6875,355)(40.8125,348)(40.9375,358)
(41.0625,350)(41.1875,358)(41.3125,345)(41.4375,355)(41.5625,352)(41.6875,358)(41.8125,340)(41.9375,355)
(42.0625,355)(42.1875,350)(42.3125,358)(42.4375,345)(42.5625,355)(42.6875,350)(42.8125,358)(42.9375,352)
(43.0625,358)(43.1875,352)(43.3125,345)(43.4375,355)(43.5625,350)(43.6875,358)(43.8125,355)(43.9375,348)
(44.0625,352)(44.1875,358)(44.3125,355)(44.4375,345)(44.5625,358)(44.6875,350)(44.8125,355)(44.9375,358)
(45.0625,358)(45.1875,350)(45.3125,355)(45.4375,348)(45.5625,358)(45.6875,352)(45.8125,345)(45.9375,358)
(46.0625,352)(46.1875,358)(46.3125,350)(46.4375,355)(46.5625,345)(46.6875,358)(46.8125,355)(46.9375,350)
(47.0625,358)(47.1875,352)(47.3125,355)(47.4375,350)(47.5625,358)(47.6875,345)(47.8125,355)(47.9375,352)};
\addplot[only marks, mark=*, mark size=2.8pt, color=mgreen] coordinates {(0.83,30)(1.83,30)(2.83,30)(3.83,28)(4.83,26)(5.83,21)(6.83,16)(7.83,15)(8.83,20)(9.83,16)(10.83,25)(11.83,22)(12.83,20)(13.83,17)(14.83,4)(15.83,25)(16.83,360)(17.83,13)(18.83,29)(19.83,26)(20.83,27)(21.83,29)(22.83,27)(23.83,335)(24.83,347)(25.83,347)(26.83,343)(27.83,356)(28.83,343)(29.83,11)(30.83,13)(31.83,13)(32.83,13)(33.83,18)(34.83,9)(35.83,12)(36.83,14)(37.83,16)(38.83,21)(39.83,9)(40.83,22)(41.83,357)(42.83,338)(43.83,338)(44.83,338)(45.83,349)(46.83,358)(47.83,347)};
\end{axis}
\pgfresetboundingbox
\path (0,0) rectangle (518.1pt,-402.9pt);
\end{tikzpicture}
\end{document}
